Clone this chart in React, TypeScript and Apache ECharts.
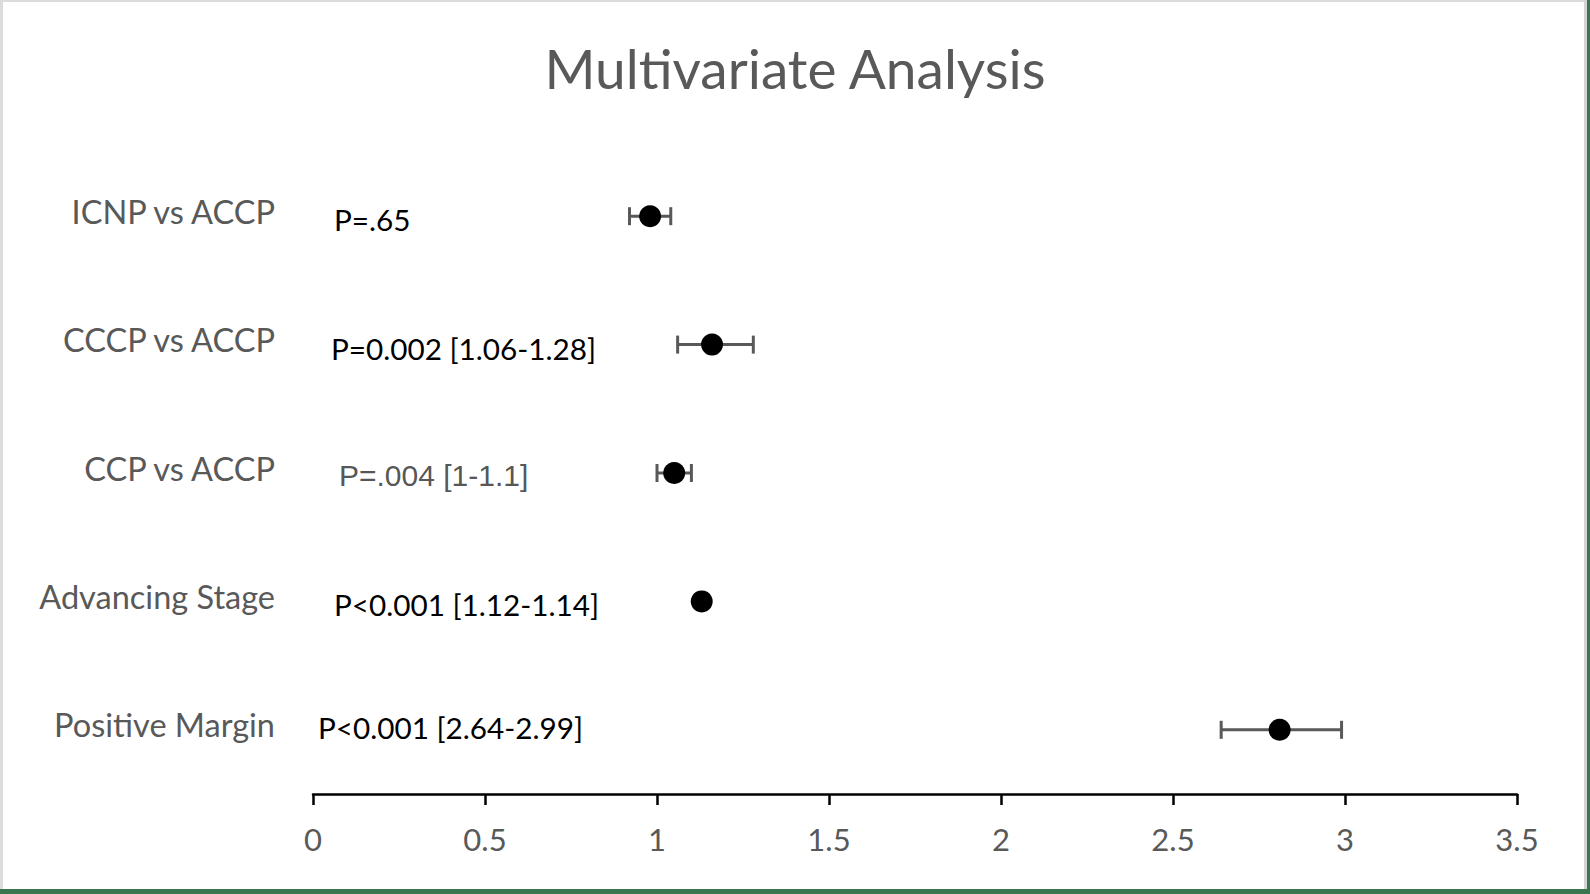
import React, { useEffect, useRef } from "react";
import * as echarts from "echarts";

const categories = [
  "ICNP vs ACCP",
  "CCCP vs ACCP",
  "CCP vs ACCP",
  "Advancing Stage",
  "Positive Margin",
];
const estimates = [0.98, 1.16, 1.05, 1.13, 2.81];
const lowerCI = [0.92, 1.06, 1.0, 1.12, 2.64];
const upperCI = [1.04, 1.28, 1.1, 1.14, 2.99];
const pLabels = [
  "P=.65",
  "P=0.002 [1.06-1.28]",
  "P=.004 [1-1.1]",
  "P<0.001 [1.12-1.14]",
  "P<0.001 [2.64-2.99]",
];
const xMin = 0;
const xMax = 3.5;
const xInterval = 0.5;

const FONT = "Lato, 'Open Sans', sans-serif";
const GREY = "#595959";

export default function App() {
  const ref = useRef<HTMLDivElement>(null);

  useEffect(() => {
    if (!ref.current) return;
    const chart = echarts.init(ref.current, null, { renderer: "svg" });

    const pLeft = [334, 331, 339, 334, 318];
    const pTop = [221, 350, 477, 606, 729];

    const option: any = {
      animation: false,
      backgroundColor: "#ffffff",
      title: {
        text: "Multivariate Analysis",
        left: "center",
        top: 35,
        textStyle: {
          fontFamily: FONT,
          fontSize: 55,
          fontWeight: "normal",
          color: GREY,
        },
      },
      grid: {
        left: 313,
        right: 73,
        top: 152,
        bottom: 100,
        containLabel: false,
      },
      xAxis: {
        type: "value",
        min: xMin,
        max: xMax,
        interval: xInterval,
        splitLine: { show: false },
        axisLine: { show: true, lineStyle: { color: "#000000", width: 2.5 } },
        axisTick: {
          show: true,
          inside: false,
          length: 11,
          lineStyle: { color: "#000000", width: 2.5 },
        },
        axisLabel: {
          margin: 29,
          fontFamily: FONT,
          fontSize: 31,
          color: GREY,
        },
      },
      yAxis: {
        type: "category",
        data: categories,
        inverse: true,
        axisLine: { show: false },
        axisTick: { show: false },
        splitLine: { show: false },
        axisLabel: {
          margin: 38,
          fontFamily: FONT,
          fontSize: 32.5,
          color: GREY,
          verticalAlign: "bottom",
          lineHeight: 10,
        },
      },
      series: [
        {
          type: "custom",
          z: 2,
          data: categories.map((_, i) => [i, lowerCI[i], upperCI[i]]),
          encode: { y: 0, x: [1, 2] },
          renderItem: (params: any, api: any) => {
            const idx = api.value(0);
            const p1 = api.coord([api.value(1), idx]);
            const p2 = api.coord([api.value(2), idx]);
            const h = 9;
            const style = { stroke: GREY, lineWidth: 3 };
            return {
              type: "group",
              children: [
                {
                  type: "line",
                  shape: { x1: p1[0], y1: p1[1], x2: p2[0], y2: p2[1] },
                  style,
                },
                {
                  type: "line",
                  shape: { x1: p1[0], y1: p1[1] - h, x2: p1[0], y2: p1[1] + h },
                  style,
                },
                {
                  type: "line",
                  shape: { x1: p2[0], y1: p2[1] - h, x2: p2[0], y2: p2[1] + h },
                  style,
                },
              ],
            };
          },
        },
        {
          type: "scatter",
          z: 3,
          symbol: "circle",
          symbolSize: 22,
          itemStyle: { color: "#000000", opacity: 1 },
          data: estimates.map((v, i) => [v, categories[i]]),
        },
      ],
      graphic: [
        ...pLabels.map((t, i) => ({
          type: "text",
          left: pLeft[i],
          top: pTop[i] - 17,
          z: 10,
          style: {
            text: t,
            fontFamily: i === 2 ? "'Liberation Sans', Arial, sans-serif" : FONT,
            fontSize: i === 2 ? 30 : 29.7,
            fill: i === 2 ? "#3f3f3f" : "#000000",
            opacity: i === 2 ? 0.9 : 1,
          },
        })),
        // outer frame
        { type: "rect", z: 20, shape: { x: 0, y: 0, width: 3, height: 894 }, style: { fill: "#dcdcdc" } },
        { type: "rect", z: 20, shape: { x: 0, y: 0, width: 1590, height: 2 }, style: { fill: "#dcdcdc" } },
        { type: "rect", z: 20, shape: { x: 1584, y: 0, width: 3, height: 894 }, style: { fill: "#d4d4d4" } },
        { type: "rect", z: 21, shape: { x: 1587, y: 0, width: 3, height: 894 }, style: { fill: "#3a7750" } },
        { type: "rect", z: 21, shape: { x: 0, y: 889, width: 1590, height: 5 }, style: { fill: "#3a7750" } },
      ],
    };

    chart.setOption(option);
    return () => chart.dispose();
  }, []);

  return (
    <div
      ref={ref}
      style={{ position: "absolute", left: 0, top: 0, width: 1590, height: 894 }}
    />
  );
}
